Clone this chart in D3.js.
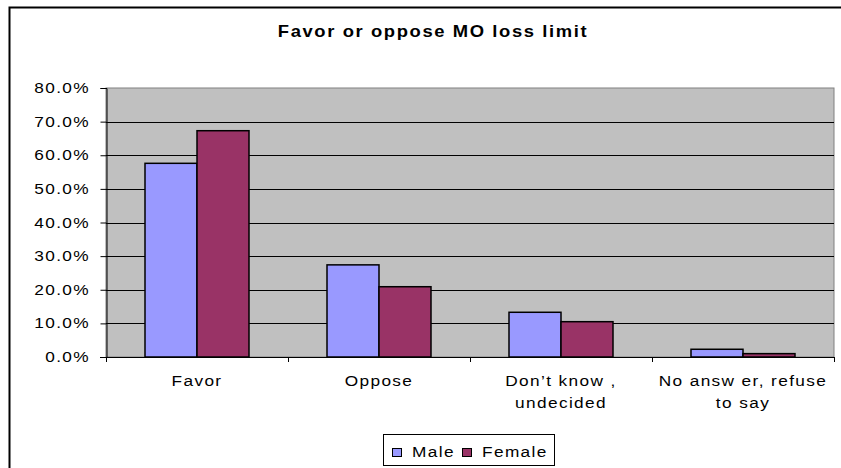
<!DOCTYPE html>
<html><head><meta charset="utf-8">
<script src="https://cdn.jsdelivr.net/npm/d3@7"></script>
<style>body{margin:0;background:#fff}svg{display:block;font-family:"Liberation Sans",Arial,sans-serif}</style>
</head><body>
<script>
const categories = [["Favor"], ["Oppose"], ["Don’t know ,", "undecided"], ["No answ er, refuse", "to say"]];
const seriesNames = ["Male", "Female"];
const maleValues = [0.576, 0.274, 0.133, 0.023];
const femaleValues = [0.673, 0.209, 0.105, 0.010];
const yTicks = [0, 0.1, 0.2, 0.3, 0.4, 0.5, 0.6, 0.7, 0.8];
const colors = ["#9999FF", "#993366"];
const title = "Favor or oppose MO loss limit";

const W = 841, H = 468;
const SX = 1.15;
const svg = d3.select("body").append("svg").attr("width", W).attr("height", H);

function label(parent, x, y, str, opts = {}) {
  return parent.append("text")
    .attr("transform", `translate(${x},${y}) scale(${SX},1)`)
    .attr("text-anchor", opts.anchor || "start")
    .attr("font-size", opts.size || 15)
    .attr("font-weight", opts.weight || "normal")
    .attr("letter-spacing", opts.ls != null ? opts.ls : 1.2)
    .attr("fill", "#000")
    .text(str);
}

svg.append("rect").attr("x", 9.5).attr("y", 7.5).attr("width", W + 10).attr("height", H + 10)
  .attr("fill", "#fff").attr("stroke", "#000").attr("stroke-width", 2);

const m = {left: 106, right: 834, top: 88, bottom: 357};
const x0 = d3.scaleBand().domain(d3.range(categories.length)).range([m.left, m.right]).paddingInner(0).paddingOuter(0);
const y = d3.scaleLinear().domain([0, 0.8]).range([m.bottom, m.top]);

svg.append("rect").attr("x", m.left).attr("y", m.top).attr("width", m.right - m.left).attr("height", m.bottom - m.top)
  .attr("fill", "#C0C0C0").attr("stroke", "#808080").attr("stroke-width", 1);

// gridlines
svg.append("g").selectAll("line").data(yTicks.slice(1, -1)).join("line")
  .attr("x1", m.left).attr("x2", m.right)
  .attr("y1", d => Math.round(y(d)) + 0.5).attr("y2", d => Math.round(y(d)) + 0.5)
  .attr("stroke", "#000").attr("stroke-width", 1);

// bars
const barW = 52;
const data = [maleValues, femaleValues];
data.forEach((vals, si) => {
  svg.append("g").selectAll("rect").data(vals).join("rect")
    .attr("x", (d, i) => x0(i) + x0.bandwidth() / 2 - barW + si * barW)
    .attr("y", d => y(d))
    .attr("width", barW)
    .attr("height", d => y(0) - y(d))
    .attr("fill", colors[si]).attr("stroke", "#000").attr("stroke-width", 1.5);
});

// y axis
const yAxis = d3.axisLeft(y).tickValues(yTicks).tickFormat("").tickSize(6);
const ya = svg.append("g").attr("transform", `translate(${m.left + 0.5},0)`).call(yAxis);
ya.select(".domain").attr("stroke", "#000");
ya.selectAll("text").remove();
const fmt = d3.format(".1%");
yTicks.forEach(t => label(svg, 90, y(t) + 5, fmt(t), {anchor: "end"}));

// x axis
const xa = svg.append("g").attr("transform", `translate(0,${m.bottom})`);
xa.append("line").attr("x1", m.left - 6).attr("x2", m.right).attr("y1", 0.5).attr("y2", 0.5).attr("stroke", "#000");
xa.selectAll("line.t").data(d3.range(categories.length + 1)).join("line").attr("class", "t")
  .attr("x1", i => (i < categories.length ? x0(i) : m.right) + 0.5)
  .attr("x2", i => (i < categories.length ? x0(i) : m.right) + 0.5)
  .attr("y1", 0).attr("y2", 5).attr("stroke", "#000");
categories.forEach((lines, i) => {
  lines.forEach((l, j) => label(svg, x0(i) + x0.bandwidth() / 2, 386 + j * 22, l, {anchor: "middle"}));
});

// title
label(svg, 433, 37, title, {anchor: "middle", size: 16, weight: "bold", ls: 1.4});

// legend
const lg = svg.append("g");
lg.append("rect").attr("x", 383.5).attr("y", 434.5).attr("width", 171).attr("height", 31)
  .attr("fill", "#fff").attr("stroke", "#000");
const legX = [392, 462];
seriesNames.forEach((n, i) => {
  lg.append("rect").attr("x", legX[i] + 0.5).attr("y", 448.5).attr("width", 9).attr("height", 8)
    .attr("fill", colors[i]).attr("stroke", "#000");
  label(lg, legX[i] + 20, 457, n);
});
</script>
</body></html>
